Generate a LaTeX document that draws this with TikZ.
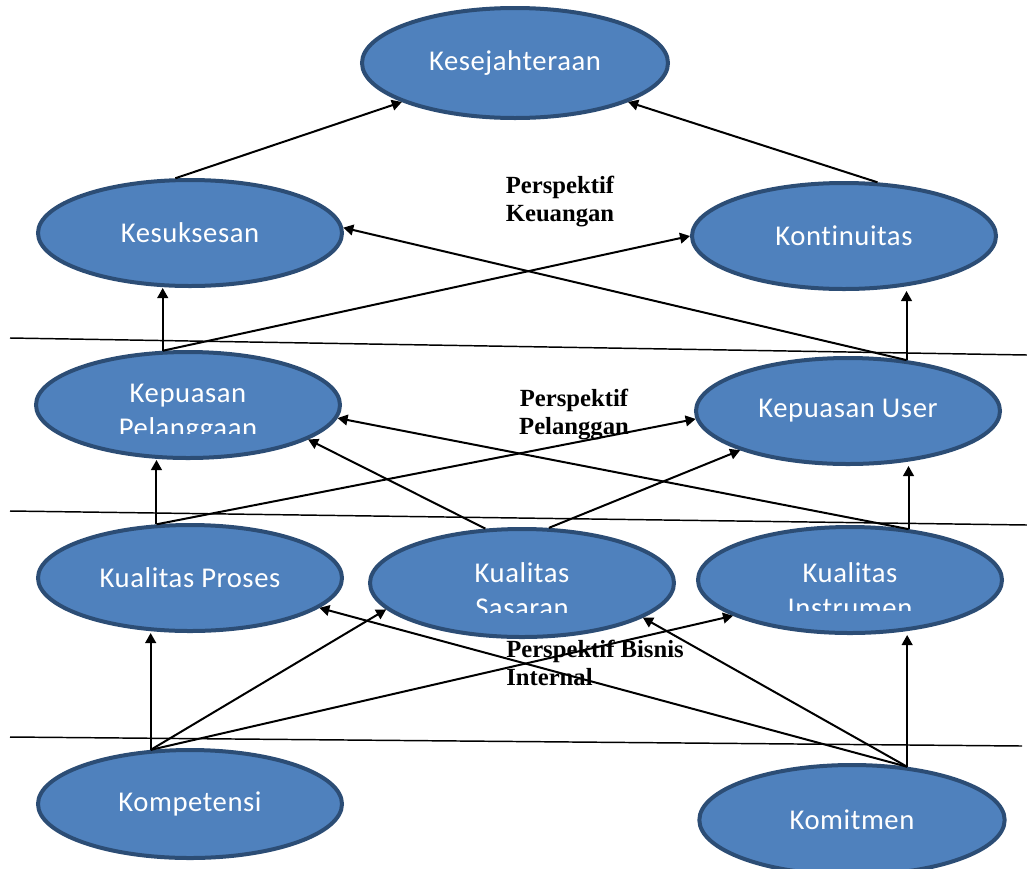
\documentclass[tikz,border=0pt]{standalone}
\usepackage{fontspec}
\setmainfont{Liberation Serif}
\newfontfamily\elfont[LetterSpace=2,Ligatures=NoCommon]{Carlito}
\usetikzlibrary{shapes.geometric,arrows.meta}
\definecolor{ef}{HTML}{4F81BD}
\definecolor{eb}{HTML}{2C4D75}
\tikzset{
  ell/.style={ellipse, draw=eb, fill=ef, line width=3pt, inner sep=0pt,
    minimum width=228pt, minimum height=79.5pt, text=white,
    font=\elfont\fontsize{21.5}{26}\selectfont, align=center},
  eltext/.style={text=white, font=\elfont\fontsize{21.5}{26}\selectfont, align=center, inner sep=0pt},
  persp/.style={font=\bfseries\fontsize{18.5}{21}\selectfont, inner sep=0pt},
  arr/.style={-{Triangle[length=7.5pt,width=8pt]}, line width=1.5pt},
  sep/.style={line width=1.1pt}
}
\begin{document}
\begin{tikzpicture}[x=0.75pt,y=-0.75pt]
\useasboundingbox (0,0) rectangle (1027,868);
% separator lines
\draw[sep] (10,338) -- (1027,355);
\draw[sep] (10,511) -- (1027,525);
\draw[sep] (10,737) -- (1022,746);
% ellipses
\node[ell, minimum width=229.5pt, minimum height=82.5pt] (kes) at (515,63) {Kesejahteraan};
\node[ell] (suk) at (190,233) {Kesuksesan};
\node[ell] (kon) at (844,236) {Kontinuitas};
\node[ell] (kpp) at (188,405) {};
\node[ell] (kpu) at (848,411) {Kepuasan User};
\node[ell] (kpr) at (190,578) {Kualitas Proses};
\node[ell, minimum height=81pt] (ksa) at (522,583) {};
\node[ell] (kin) at (850,580) {};
\node[ell, minimum height=81pt] (kom) at (190,804) {Kompetensi};
\node[ell, minimum width=229pt, minimum height=82.5pt] (kmt) at (852,820) {Komitmen};
% clipped texts
\begin{scope}
\clip (0,0) rectangle (1027,433);
\node[eltext] (tkpp) at (188,413) {Kepuasan\\Pelanggaan};
\end{scope}
\begin{scope}
\clip (0,0) rectangle (1027,612);
\node[eltext] (tksa) at (522,590) {Kualitas\\Sasaran};
\end{scope}
\begin{scope}
\clip (0,0) rectangle (1027,610);
\node[eltext] (tkin) at (850,590) {Kualitas\\Instrumen};
\end{scope}
% perspective labels
\node[persp, align=center] (p1) at (560,202) {Perspektif\\Keuangan};
\node[persp, align=center] (p2) at (574,415) {Perspektif\\Pelanggan};
\node[persp, align=left, anchor=west] (p3) at (506,663) {Perspektif Bisnis\\Internal};
% arrows
\draw[arr] (suk.105.8) -- (kes.199.9);
\draw[arr] (kon.58.3) -- (kes.341.7);
\draw[arr] (kpp.115.05) -- (kpp.115.05 |- suk.south);
\draw[arr] (kpp.115.05) -- (kon.180);
\draw[arr] (kpu.41.9) -- (suk.2);
\draw[arr] (kpu.41.9) -- (kpu.41.9 |- kon.south);
\draw[arr] (kpr.122.5) -- (kpr.122.5 |- kpp.south);
\draw[arr] (kpr.122.5) -- (kpu.183);
\draw[arr] (ksa.124.4) -- (kpp.344.2);
\draw[arr] (ksa.64.9) -- (kpu.200.7);
\draw[arr] (kin.41.4) -- (kpp.355.2);
\draw[arr] (kin.41.4) -- (kin.41.4 |- kpu.south);
\draw[arr] (kom.126) -- (kom.126 |- kpr.south);
\draw[arr] (kom.126) -- (ksa.191.4);
\draw[arr] (kom.126) -- (kin.197.7);
\draw[arr] (kmt.44.2) -- (kpr.347.1);
\draw[arr] (kmt.44.2) -- (ksa.344.9);
\draw[arr] (kmt.44.2) -- (kmt.44.2 |- kin.south);
\end{tikzpicture}
\end{document}
